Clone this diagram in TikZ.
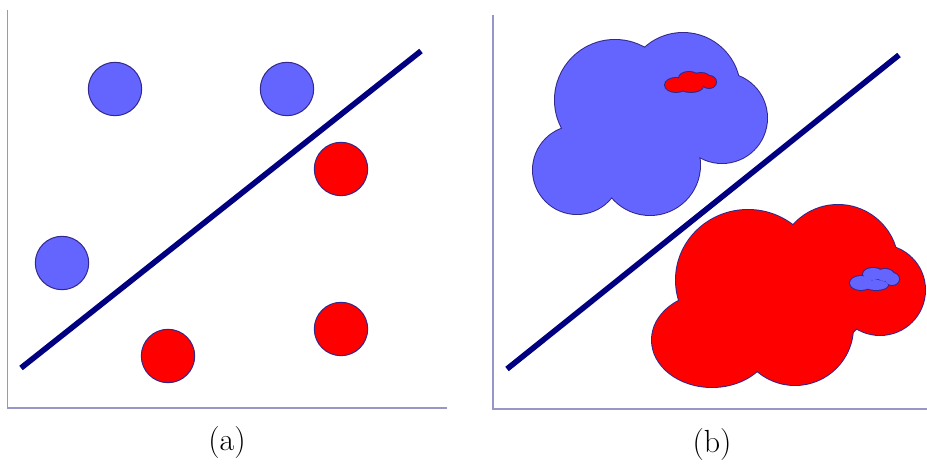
\documentclass[tikz,border=0pt]{standalone}
\usepackage{tikz}
\usetikzlibrary{positioning}

\definecolor{ptblue}{RGB}{100,100,255}
\definecolor{ptred}{RGB}{255,0,0}
\definecolor{sepnavy}{RGB}{0,0,128}
\definecolor{axisgray}{RGB}{150,150,200}
\definecolor{edgeblue}{RGB}{50,40,140}

% cloud = union of discs: outline pass, then fill pass
\newcommand{\drawcloud}[2]{%
  \foreach \cx/\cy/\rx/\ry in {#2}
    \draw[draw=edgeblue, line width=1pt] (\cx,\cy) ellipse [x radius=\rx, y radius=\ry];
  \foreach \cx/\cy/\rx/\ry in {#2}
    \fill[#1] (\cx,\cy) ellipse [x radius=\rx, y radius=\ry];
}

\begin{document}
\begin{tikzpicture}[
  x=0.5pt, y=-0.5pt,
  font=\fontsize{16}{19}\selectfont,
  axis/.style={draw=axisgray, line width=0.75pt},
  sep/.style={draw=sepnavy, line width=2.8pt},
  pt/.style={circle, draw=edgeblue, line width=0.5pt, minimum size=26.7pt, inner sep=0pt},
  bluept/.style={pt, fill=ptblue},
  redpt/.style={pt, fill=ptred}
]
\useasboundingbox (0,0) rectangle (927,464);
% --- (a) points and a separating line ---
\begin{scope}
  \coordinate (oa) at (7.5,408);
  \draw[axis] (7.5,10) -- (oa) -- (447,408);
  \coordinate (sepa1) at (21,368);
  \coordinate (sepa2) at (421,51);
  \draw[sep] (sepa1) -- (sepa2);
  \node[bluept] (ba1) at (115,89) {};
  \node[bluept] (ba2) at (287,89) {};
  \node[bluept] (ba3) at (62,263) {};
  \node[redpt] (ra1) at (341,169) {};
  \node[redpt] (ra2) at (168,356) {};
  \node[redpt] (ra3) at (341,329) {};
  \node (capa) at (227,443) {(a)};
\end{scope}
% --- (b) regions ---
\begin{scope}[shift={(486,0)}]
  \coordinate (ob) at (7,409);
  \draw[axis] (7,15) -- (ob) -- (441,409);
  \drawcloud{ptblue}{129/100/60/60, 197/90/57/57, 236/118/45/45,
    91/170/44/44, 164/165/50/50, 164/120/50/50}
  \drawcloud{ptred}{262/280/72/70, 352/265/60/60, 394/290/45/45,
    309/327/58/58, 226/340/60/47, 304/295/80/60}
  \drawcloud{ptred}{190/85/11/7, 203/78/10/6, 215/79/9/6, 223/82/7/6, 205/86/12/6}
  \drawcloud{ptblue}{375/283/11/7, 387/274/10/6, 399/275/9/6, 406/279/7/6, 390/285/12/5}
  \coordinate (sepb1) at (21,369);
  \coordinate (sepb2) at (413,55);
  \draw[sep] (sepb1) -- (sepb2);
  \node (capb) at (226,445) {(b)};
\end{scope}
\end{tikzpicture}
\end{document}
